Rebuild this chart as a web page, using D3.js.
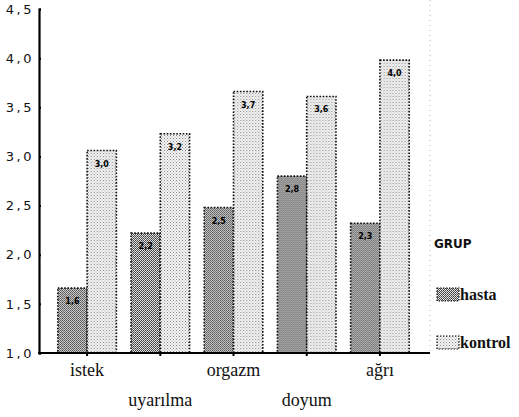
<!DOCTYPE html>
<html><head><meta charset="utf-8">
<script src="https://cdn.jsdelivr.net/npm/d3@7"></script>
<style>body{margin:0;background:#fff}</style>
</head><body>
<script>
const categories = ["istek","uyarılma","orgazm","doyum","ağrı"];
const hastaValues = [1.66, 2.22, 2.48, 2.80, 2.32];
const kontrolValues = [3.06, 3.23, 3.66, 3.61, 3.98];
const hastaLabels = ["1,6","2,2","2,5","2,8","2,3"];
const kontrolLabels = ["3,0","3,2","3,7","3,6","4,0"];
const yTicks = [1.0,1.5,2.0,2.5,3.0,3.5,4.0,4.5];
const yTickLabels = ["1,0","1,5","2,0","2,5","3,0","3,5","4,0","4,5"];
const seriesNames = ["hasta","kontrol"];

const W=519,H=417;
const svg=d3.select("body").append("svg").attr("width",W).attr("height",H);
const defs=svg.append("defs");
const p1=defs.append("pattern").attr("id","pHasta").attr("width",2).attr("height",2).attr("patternUnits","userSpaceOnUse");
p1.append("rect").attr("width",2).attr("height",2).attr("fill","#e4e4e4");
p1.append("rect").attr("x",0).attr("y",0).attr("width",1).attr("height",1).attr("fill","#3a3a3a");
p1.append("rect").attr("x",1).attr("y",1).attr("width",1).attr("height",1).attr("fill","#555");
const p2=defs.append("pattern").attr("id","pKontrol").attr("width",3).attr("height",3).attr("patternUnits","userSpaceOnUse");
p2.append("rect").attr("width",3).attr("height",3).attr("fill","#f4f4f4");
p2.append("rect").attr("x",0).attr("y",0).attr("width",1).attr("height",1).attr("fill","#888");
p2.append("rect").attr("x",1.5).attr("y",1.5).attr("width",1).attr("height",1).attr("fill","#aaa");

const y=d3.scaleLinear().domain([1.0,4.5]).range([353,9]);
const x=d3.scaleBand().domain(categories).range([50.5,416.5]).paddingInner(0.2).paddingOuter(0.1);
const sub=d3.scaleBand().domain(seriesNames).range([0,x.bandwidth()]);

svg.append("line").attr("x1",430).attr("x2",430).attr("y1",0).attr("y2",352)
  .attr("stroke","#bbb").attr("stroke-width",1).attr("stroke-dasharray","1,4");

const data=categories.map((c,i)=>({c,vals:[{s:"hasta",v:hastaValues[i],l:hastaLabels[i]},{s:"kontrol",v:kontrolValues[i],l:kontrolLabels[i]}]}));
const g=svg.append("g");
const groups=g.selectAll("g.cat").data(data).join("g").attr("transform",d=>`translate(${x(d.c)},0)`);
groups.selectAll("rect").data(d=>d.vals).join("rect")
  .attr("x",d=>sub(d.s)).attr("width",sub.bandwidth())
  .attr("y",d=>y(d.v)).attr("height",d=>y(1.0)-y(d.v))
  .attr("fill",d=>d.s==="hasta"?"url(#pHasta)":"url(#pKontrol)")
  .attr("stroke","#111").attr("stroke-width",1.6).attr("stroke-dasharray","1.6,1.6");
groups.selectAll("text").data(d=>d.vals).join("text")
  .attr("x",d=>sub(d.s)+sub.bandwidth()/2).attr("y",d=>y(d.v)+16)
  .attr("text-anchor","middle").attr("font-family","DejaVu Sans").attr("font-weight","bold")
  .attr("font-size",8).attr("fill","#000").text(d=>d.l);

const yAxis=d3.axisLeft(y).tickValues(yTicks).tickSize(-2).tickFormat((d,i)=>yTickLabels[i]);
const ya=svg.append("g").attr("transform","translate(39,0)").call(yAxis);
ya.select(".domain").attr("stroke","#000").attr("stroke-width",2.2);
ya.selectAll(".tick line").attr("stroke","#000").attr("stroke-width",2);
ya.selectAll(".tick text").attr("x",-5).attr("font-family","DejaVu Sans").attr("font-size",13)
  .attr("letter-spacing","2.5px").attr("fill","#111");

svg.append("line").attr("x1",38).attr("x2",430).attr("y1",353).attr("y2",353).attr("stroke","#000").attr("stroke-width",1.8);
const xAxis=d3.axisBottom(x).tickSize(3).tickFormat("");
const xa=svg.append("g").attr("transform","translate(0,353)").call(xAxis);
xa.select(".domain").remove();
xa.selectAll(".tick line").attr("stroke","#000").attr("stroke-width",2);
svg.selectAll("text.cat").data(categories).join("text").attr("class","cat")
  .attr("x",d=>x(d)+x.bandwidth()/2).attr("y",(d,i)=>i%2===0?376:406)
  .attr("text-anchor","middle").attr("font-family","Liberation Serif").attr("font-size",18)
  .attr("fill","#111").text(d=>d);

svg.append("text").attr("x",434).attr("y",248).attr("font-family","DejaVu Sans").attr("font-weight","bold")
  .attr("font-size",12).attr("fill","#111").text("GRUP");
const lg=svg.selectAll("g.leg").data(seriesNames).join("g").attr("class","leg")
  .attr("transform",(d,i)=>`translate(437,${288+i*48})`);
lg.append("rect").attr("width",22).attr("height",13)
  .attr("fill",d=>d==="hasta"?"url(#pHasta)":"url(#pKontrol)")
  .attr("stroke","#111").attr("stroke-width",1.2).attr("stroke-dasharray","1.5,1.5");
lg.append("text").attr("x",23).attr("y",12).attr("font-family","Liberation Serif").attr("font-weight","bold")
  .attr("font-size",16).attr("fill","#111").text(d=>d);
</script>
</body></html>
